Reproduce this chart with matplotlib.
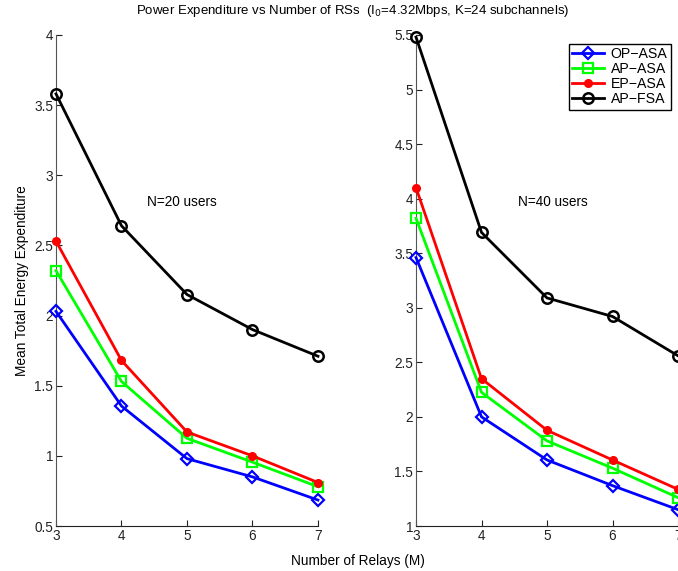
import matplotlib
matplotlib.use('Agg')
import matplotlib.pyplot as plt

plt.rcParams['font.family'] = ['Liberation Sans', 'DejaVu Sans']

relays = [3, 4, 5, 6, 7]

# N=20 users
op_asa_20 = [2.03, 1.355, 0.98, 0.85, 0.685]
ap_asa_20 = [2.32, 1.53, 1.125, 0.955, 0.78]
ep_asa_20 = [2.53, 1.68, 1.17, 1.0, 0.81]
ap_fsa_20 = [3.58, 2.64, 2.15, 1.90, 1.71]

# N=40 users
op_asa_40 = [3.46, 2.0, 1.605, 1.37, 1.15]
ap_asa_40 = [3.82, 2.225, 1.78, 1.53, 1.26]
ep_asa_40 = [4.10, 2.35, 1.877, 1.605, 1.336]
ap_fsa_40 = [5.48, 3.69, 3.09, 2.92, 2.56]

labels = ['OP\u2212ASA', 'AP\u2212ASA', 'EP\u2212ASA', 'AP\u2212FSA']

fs = 9.8

fig = plt.figure(figsize=(6.78, 5.71), dpi=100)
ax1 = fig.add_axes([0.0826, 0.0788, 0.3864, 0.86])
ax2 = fig.add_axes([0.6136, 0.0788, 0.3864, 0.86])

def draw(ax, op, ap, ep, fsa):
    kw = dict(lw=2, clip_on=False, zorder=3)
    ax.plot(relays, op, color='blue', marker='D', ms=6, mfc='none', mew=1.6, label=labels[0], **kw)
    ax.plot(relays, ap, color='#00ff00', marker='s', ms=6.5, mfc='none', mew=1.6, label=labels[1], **kw)
    ax.plot(relays, ep, color='red', marker='o', ms=5.5, mfc='red', mec='red', label=labels[2], **kw)
    ax.plot(relays, fsa, color='black', marker='o', ms=7.5, mfc='none', mew=1.8, label=labels[3], **kw)
    ax.spines['top'].set_visible(False)
    ax.spines['right'].set_visible(False)
    ax.spines['left'].set_color('#555555')
    ax.spines['bottom'].set_color('#222222')
    ax.tick_params(direction='in', length=4, pad=2, labelsize=fs, colors='#222222')
    ax.set_xlim(3, 7)
    ax.set_xticks(relays)

draw(ax1, op_asa_20, ap_asa_20, ep_asa_20, ap_fsa_20)
ax1.set_ylim(0.5, 4)
ax1.set_yticks([0.5, 1, 1.5, 2, 2.5, 3, 3.5, 4])
ax1.set_yticklabels(['0.5', '1', '1.5', '2', '2.5', '3', '3.5', '4'])
ax1.text(4.39, 2.81, 'N=20 users', fontsize=fs, va='center')
ax1.set_ylabel('Mean Total Energy Expenditure', fontsize=fs, labelpad=4)

draw(ax2, op_asa_40, ap_asa_40, ep_asa_40, ap_fsa_40)
ax2.set_ylim(1, 5.5)
ax2.set_yticks([1, 1.5, 2, 2.5, 3, 3.5, 4, 4.5, 5, 5.5])
ax2.set_yticklabels(['1', '1.5', '2', '2.5', '3', '3.5', '4', '4.5', '5', '5.5'])
ax2.text(4.56, 3.97, 'N=40 users', fontsize=fs, va='center')
leg = ax2.legend(loc='upper right', bbox_to_anchor=(1.0, 0.997), fontsize=10.2,
                 frameon=True, fancybox=False, edgecolor='black', framealpha=1,
                 handlelength=2.2, borderpad=0.25, labelspacing=0.08, handletextpad=0.5)
leg.get_frame().set_linewidth(1.0)

fig.text(0.528, 0.01, 'Number of Relays (M)', ha='center', fontsize=fs)
fig.text(0.52, 0.975, 'Power Expenditure vs Number of RSs  (I$_0$=4.32Mbps, K=24 subchannels)',
         ha='center', fontsize=9.5)

fig.savefig('out.png', dpi=100)
